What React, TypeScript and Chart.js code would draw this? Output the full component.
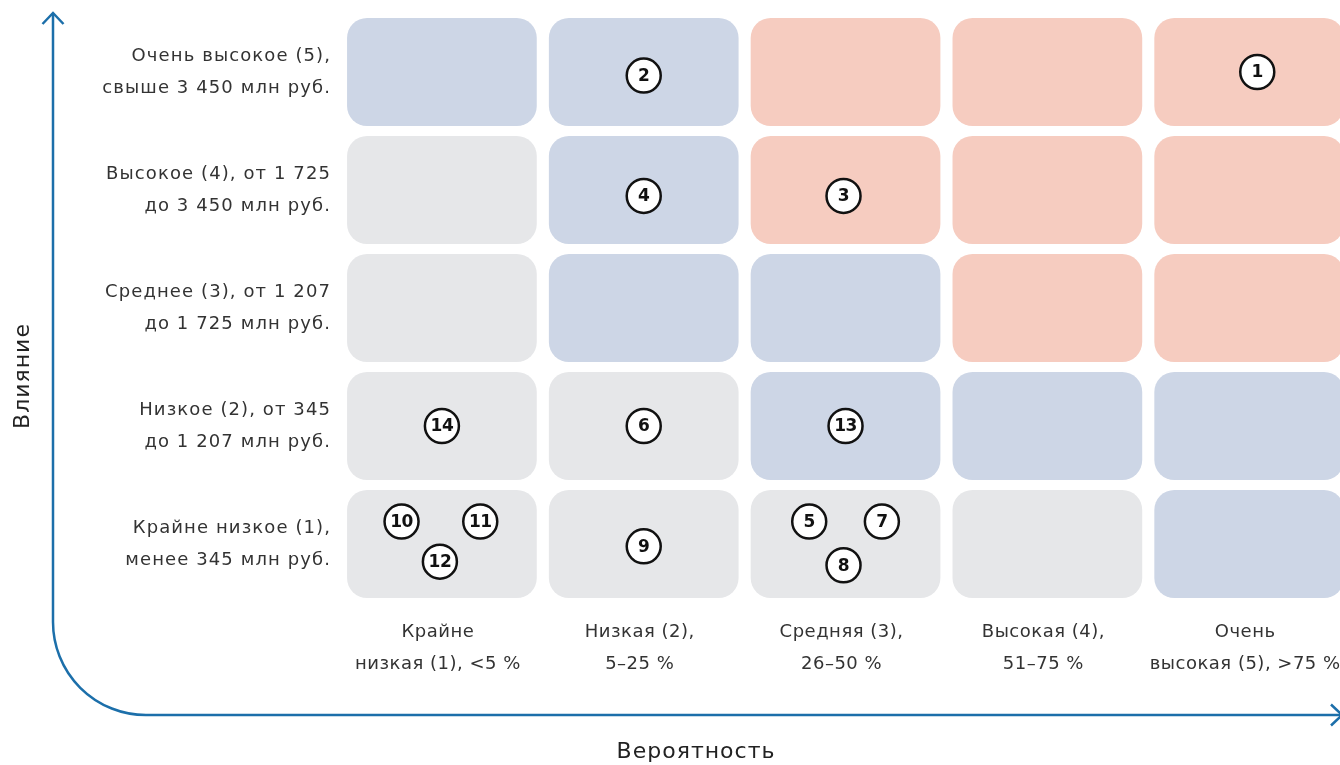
import React, { useEffect, useRef } from "react";
import { Chart, registerables } from "chart.js";

Chart.register(...registerables);

// Probability categories (x) — each label as lines
const probLabels: string[][] = [
  ["Крайне", "низкая (1), <5 %"],
  ["Низкая (2),", "5–25 %"],
  ["Средняя (3),", "26–50 %"],
  ["Высокая (4),", "51–75 %"],
  ["Очень", "высокая (5), >75 %"],
];
const probValues = [1, 2, 3, 4, 5];

// Impact categories (y), from 1 (bottom) to 5 (top)
const impactLabels: string[][] = [
  ["Крайне низкое (1),", "менее 345 млн руб."],
  ["Низкое (2), от 345", "до 1 207 млн руб."],
  ["Среднее (3), от 1 207", "до 1 725 млн руб."],
  ["Высокое (4), от 1 725", "до 3 450 млн руб."],
  ["Очень высокое (5),", "свыше 3 450 млн руб."],
];
const impactValues = [1, 2, 3, 4, 5];

// Cell zone per impact row (index 0 = impact 1), per probability column
// g = low (gray), b = medium (blue), r = high (pink)
const zoneImpact1 = ["g", "g", "g", "g", "b"];
const zoneImpact2 = ["g", "g", "b", "b", "b"];
const zoneImpact3 = ["g", "b", "b", "r", "r"];
const zoneImpact4 = ["g", "b", "r", "r", "r"];
const zoneImpact5 = ["b", "b", "r", "r", "r"];
const zoneRows = [zoneImpact1, zoneImpact2, zoneImpact3, zoneImpact4, zoneImpact5];

// Risks
const riskIds = [1, 2, 3, 4, 5, 6, 7, 8, 9, 10, 11, 12, 13, 14];
const riskProb = [5.04, 2, 2.99, 2, 2.82, 2, 3.18, 2.99, 2, 0.8, 1.19, 0.99, 3, 1];
const riskImpact = [5, 4.97, 3.95, 3.95, 1.19, 2, 1.19, 0.82, 0.98, 1.19, 1.19, 0.85, 2, 2];

const xTitle = "Вероятность";
const yTitle = "Влияние";

const zoneColors: Record<string, string> = {
  g: "#E6E7E9",
  b: "#CDD6E6",
  r: "#F6CCC0",
};
const AXIS_COLOR = "#1C6FAA";
const TEXT_COLOR = "#333333";
const FONT = '"DejaVu Sans", sans-serif';

function roundRect(ctx: CanvasRenderingContext2D, x: number, y: number, w: number, h: number, r: number) {
  ctx.beginPath();
  ctx.moveTo(x + r, y);
  ctx.lineTo(x + w - r, y);
  ctx.arcTo(x + w, y, x + w, y + r, r);
  ctx.lineTo(x + w, y + h - r);
  ctx.arcTo(x + w, y + h, x + w - r, y + h, r);
  ctx.lineTo(x + r, y + h);
  ctx.arcTo(x, y + h, x, y + h - r, r);
  ctx.lineTo(x, y + r);
  ctx.arcTo(x, y, x + r, y, r);
  ctx.closePath();
}

const matrixPlugin = {
  id: "matrix",
  beforeDatasetsDraw(chart: any) {
    const ctx: any = chart.ctx;
    const xs = chart.scales.x;
    const ys = chart.scales.y;
    const cellW = 0.94;
    const cellH = 0.915;
    ctx.save();
    impactValues.forEach((iv, ri) => {
      probValues.forEach((pv, ci) => {
        const x0 = xs.getPixelForValue(pv - cellW / 2);
        const x1 = xs.getPixelForValue(pv + cellW / 2);
        const y0 = ys.getPixelForValue(iv + cellH / 2);
        const y1 = ys.getPixelForValue(iv - cellH / 2);
        ctx.fillStyle = zoneColors[zoneRows[ri][ci]];
        roundRect(ctx, x0, y0, x1 - x0, y1 - y0, 20);
        ctx.fill();
      });
    });

    // Y labels
    ctx.fillStyle = TEXT_COLOR;
    ctx.font = `18px ${FONT}`;
    ctx.letterSpacing = "1.1px";
    ctx.textAlign = "right";
    ctx.textBaseline = "middle";
    const labelRight = xs.getPixelForValue(0.5) - 10;
    impactValues.forEach((iv, ri) => {
      const cy = ys.getPixelForValue(iv);
      const lines = impactLabels[ri];
      lines.forEach((ln, li) => {
        ctx.fillText(ln, labelRight, cy - 16 + li * 32);
      });
    });

    // X labels
    ctx.letterSpacing = "0.5px";
    ctx.textAlign = "center";
    const labelTop = ys.getPixelForValue(0.5) + 29;
    probValues.forEach((pv, ci) => {
      const cx = xs.getPixelForValue(pv) - 4;
      probLabels[ci].forEach((ln, li) => {
        ctx.fillText(ln, cx, labelTop + li * 32);
      });
    });

    // Axes
    const ax = 53;
    const ay = 715;
    const r = 93;
    ctx.strokeStyle = AXIS_COLOR;
    ctx.lineWidth = 2.5;
    ctx.beginPath();
    ctx.moveTo(ax, 13);
    ctx.lineTo(ax, ay - r);
    ctx.arc(ax + r, ay - r, r, Math.PI, Math.PI / 2, true);
    ctx.lineTo(1341, ay);
    ctx.stroke();
    // arrows
    ctx.beginPath();
    ctx.moveTo(ax - 10.5, 24);
    ctx.lineTo(ax, 13);
    ctx.lineTo(ax + 10.5, 24);
    ctx.stroke();
    ctx.beginPath();
    ctx.moveTo(1331, ay - 10.5);
    ctx.lineTo(1342, ay);
    ctx.lineTo(1331, ay + 10.5);
    ctx.stroke();

    // Axis titles
    ctx.fillStyle = "#222222";
    ctx.font = `22px ${FONT}`;
    ctx.letterSpacing = "1px";
    ctx.textAlign = "center";
    ctx.textBaseline = "middle";
    ctx.fillText(xTitle, 696, 752);
    ctx.save();
    ctx.translate(23, 376);
    ctx.rotate(-Math.PI / 2);
    ctx.fillText(yTitle, 0, 0);
    ctx.restore();
    ctx.letterSpacing = "0px";
    ctx.restore();
  },
  afterDatasetsDraw(chart: any) {
    const ctx: any = chart.ctx;
    const meta = chart.getDatasetMeta(0);
    ctx.save();
    ctx.fillStyle = "#111111";
    ctx.font = `bold 17px ${FONT}`;
    ctx.letterSpacing = "-0.5px";
    ctx.textAlign = "center";
    ctx.textBaseline = "middle";
    meta.data.forEach((pt: any, i: number) => {
      ctx.fillText(String(riskIds[i]), pt.x, pt.y + 1);
    });
    ctx.letterSpacing = "0px";
    ctx.restore();
  },
};

export default function App() {
  const ref = useRef<HTMLCanvasElement | null>(null);
  useEffect(() => {
    document.body.style.margin = "0";
    if (!ref.current) return;
    const chart = new Chart(ref.current, {
      type: "scatter",
      data: {
        datasets: [
          {
            data: riskIds.map((_, i) => ({ x: riskProb[i], y: riskImpact[i] })),
            pointRadius: 17,
            pointHoverRadius: 17,
            pointBackgroundColor: "#FFFFFF",
            pointBorderColor: "#111111",
            pointBorderWidth: 2.5,
            clip: false as any,
          },
        ],
      },
      options: {
        responsive: false,
        animation: false,
        events: [],
        layout: { autoPadding: false, padding: { left: 341, right: 0, top: 13, bottom: 162 } },
        plugins: { legend: { display: false }, tooltip: { enabled: false } },
        scales: {
          x: { type: "linear", min: 0.5, max: 5.45, display: false },
          y: { type: "linear", min: 0.5, max: 5.5, display: false },
        },
      },
      plugins: [matrixPlugin],
    });
    return () => chart.destroy();
  }, []);
  return (
    <div style={{ position: "fixed", left: 0, top: 0, width: 1340, height: 765, background: "#fff" }}>
      <canvas ref={ref} width={1340} height={765} style={{ width: 1340, height: 765 }} />
    </div>
  );
}
